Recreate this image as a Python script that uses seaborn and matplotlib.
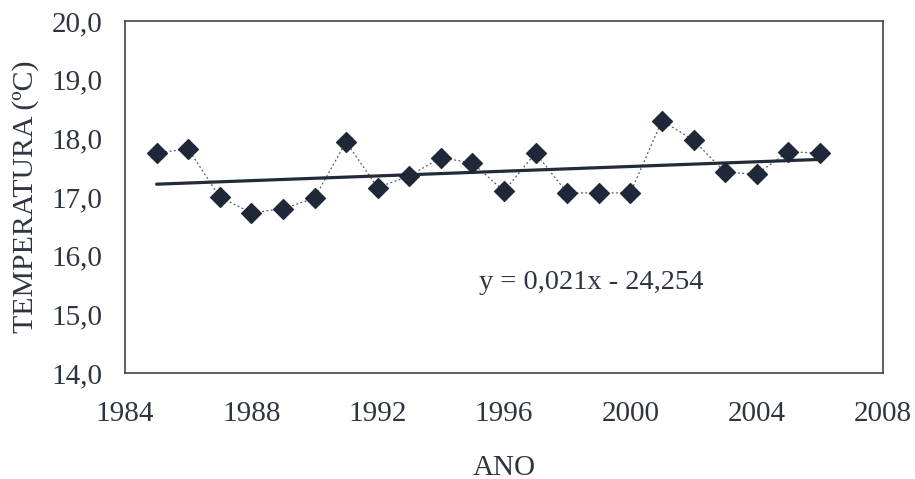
import numpy as np
import pandas as pd
import matplotlib.pyplot as plt
import seaborn as sns

# Annual mean temperature
anos = list(range(1985, 2007))
temperatura = [17.75, 17.82, 17.00, 16.73, 16.80, 16.98, 17.94, 17.16, 17.36, 17.67,
               17.58, 17.10, 17.75, 17.07, 17.07, 17.07, 18.30, 17.97, 17.42, 17.39,
               17.77, 17.75]
xticks = [1984, 1988, 1992, 1996, 2000, 2004, 2008]
yticks = [14, 15, 16, 17, 18, 19, 20]
equacao = "y = 0,021x - 24,254"

df = pd.DataFrame({"ano": anos, "temp": temperatura})

sns.set_style("white")
plt.rcParams['font.family'] = ['Liberation Serif', 'DejaVu Serif']
txt = "#2e3540"
mk = "#1f2838"

fig = plt.figure(figsize=(9.15, 4.79), dpi=100)
ax = fig.add_axes([125 / 915, 1 - 373 / 479, (883 - 125) / 915, (373 - 21) / 479])

sns.lineplot(data=df, x="ano", y="temp", ax=ax, color="#555b66", lw=0.9,
             linestyle=(0, (1.5, 2)))
sns.scatterplot(data=df, x="ano", y="temp", ax=ax, marker="D", s=105,
                color=mk, edgecolor=mk, zorder=3)

# linear trend
coef = np.polyfit(df["ano"], df["temp"], 1)
xs = np.array([anos[0], anos[-1]])
ax.plot(xs, np.polyval(coef, xs), color="#222b38", lw=2.3, zorder=2)

ax.text(1995.2, 15.54, equacao, fontsize=20.5, color=txt, va="center", ha="left")

ax.set_xlim(1984, 2008)
ax.set_ylim(14, 20)
ax.set_xticks(xticks)
ax.set_yticks(yticks)
ax.set_yticklabels([f"{v:.1f}".replace(".", ",") for v in yticks])
ax.tick_params(axis="both", direction="out", length=7, width=1, color="#555b66",
               labelsize=21, labelcolor=txt)
ax.tick_params(axis="x", pad=13)
ax.tick_params(axis="y", pad=9)
for s in ax.spines.values():
    s.set_color("#3c4450")
    s.set_linewidth(1.2)

ax.set_xlabel("ANO", fontsize=21, color=txt, labelpad=20)
ax.set_ylabel("TEMPERATURA (ºC)", fontsize=21.5, color=txt, labelpad=9)

fig.savefig("out.png", dpi=100)
